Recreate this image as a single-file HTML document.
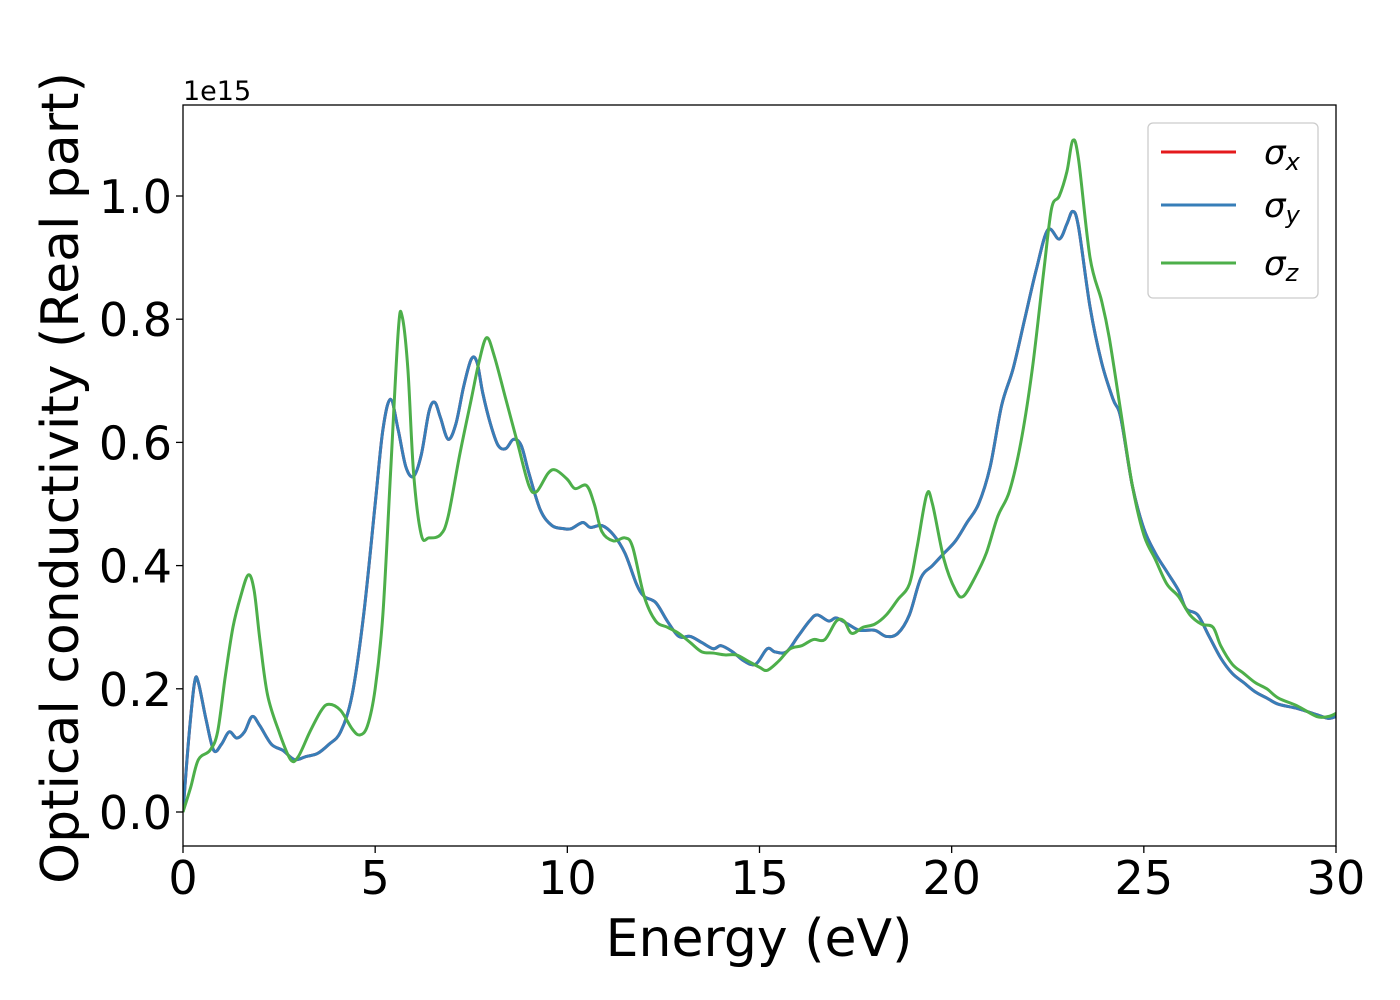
<!DOCTYPE html>
<html><head><meta charset="utf-8"><style>
body{margin:0;background:#fff;}
svg{display:block;font-family:"DejaVu Sans","Liberation Sans",sans-serif;}
</style></head><body>
<svg id="chart" width="1400" height="1000" viewBox="0 0 1400 1000">
<rect width="1400" height="1000" fill="#fff"/>
<g id="plot"></g>
<g id="axes"></g>
<text x="183" y="100" font-size="27">1e15</text>
<text x="759" y="956" font-size="52" text-anchor="middle">Energy (eV)</text>
<text transform="translate(78,478) rotate(-90)" font-size="52" text-anchor="middle">Optical conductivity (Real part)</text>
<g>
<rect x="1148" y="123" width="170" height="175" rx="5" fill="#fff" fill-opacity="0.8" stroke="#ccc" stroke-width="1.3"/>
<g><line x1="1161" y1="152" x2="1236" y2="152" stroke="#e41a1c" stroke-width="3"/><text x="1264" y="164" font-size="34" font-style="italic">σ<tspan font-size="24" dy="6">x</tspan></text></g>
<g><line x1="1161" y1="205" x2="1236" y2="205" stroke="#377eb8" stroke-width="3"/><text x="1264" y="217" font-size="34" font-style="italic">σ<tspan font-size="24" dy="6">y</tspan></text></g>
<g><line x1="1161" y1="263" x2="1236" y2="263" stroke="#4daf4a" stroke-width="3"/><text x="1264" y="275" font-size="34" font-style="italic">σ<tspan font-size="24" dy="6">z</tspan></text></g>
</g>
</svg>
<script>
const xyE=[0,0.15,0.3,0.4,0.6,0.8,1.0,1.2,1.4,1.6,1.8,2.0,2.3,2.6,2.9,3.2,3.5,3.8,4.1,4.4,4.7,5.0,5.2,5.4,5.6,5.8,6.0,6.2,6.4,6.55,6.7,6.9,7.1,7.3,7.5,7.65,7.8,8.0,8.2,8.4,8.6,8.8,9.0,9.3,9.6,9.9,10.1,10.4,10.6,10.9,11.2,11.5,11.8,12.0,12.3,12.6,12.9,13.2,13.5,13.8,14.0,14.3,14.6,14.9,15.2,15.4,15.7,16.0,16.3,16.5,16.8,17.0,17.3,17.6,18.0,18.3,18.6,18.9,19.2,19.5,19.8,20.1,20.4,20.7,21.0,21.3,21.6,21.9,22.2,22.5,22.8,23.0,23.15,23.3,23.6,23.9,24.2,24.4,24.7,25.0,25.3,25.6,25.9,26.1,26.4,26.7,27.0,27.3,27.6,27.9,28.2,28.5,29.0,29.5,29.8,30];
const sigmaX=[0,0.12,0.21,0.21,0.15,0.10,0.11,0.13,0.12,0.13,0.155,0.14,0.11,0.10,0.085,0.09,0.095,0.11,0.13,0.19,0.32,0.5,0.62,0.67,0.62,0.56,0.545,0.58,0.65,0.665,0.64,0.605,0.63,0.69,0.735,0.73,0.68,0.63,0.595,0.59,0.605,0.595,0.55,0.49,0.465,0.46,0.46,0.47,0.462,0.465,0.45,0.42,0.37,0.35,0.34,0.31,0.285,0.285,0.275,0.265,0.27,0.26,0.245,0.24,0.265,0.26,0.26,0.285,0.31,0.32,0.31,0.315,0.305,0.295,0.295,0.285,0.29,0.32,0.38,0.4,0.42,0.44,0.47,0.5,0.56,0.66,0.72,0.8,0.88,0.945,0.93,0.955,0.975,0.95,0.82,0.73,0.67,0.64,0.53,0.46,0.42,0.39,0.36,0.33,0.32,0.285,0.25,0.225,0.21,0.195,0.185,0.175,0.168,0.158,0.152,0.155];
const sigmaY=sigmaX.slice();
const zE=[0,0.2,0.4,0.7,0.9,1.1,1.3,1.5,1.7,1.85,2.0,2.2,2.5,2.8,3.0,3.3,3.6,3.8,4.1,4.4,4.6,4.8,5.0,5.2,5.4,5.6,5.7,5.85,6.0,6.2,6.4,6.7,6.9,7.2,7.5,7.7,7.9,8.1,8.4,8.7,9.0,9.2,9.5,9.7,10.0,10.2,10.5,10.7,10.9,11.2,11.5,11.7,12.0,12.3,12.6,12.9,13.2,13.5,13.8,14.1,14.4,14.7,15.0,15.2,15.5,15.8,16.1,16.4,16.7,17.0,17.2,17.4,17.7,18.0,18.3,18.6,18.9,19.1,19.35,19.5,19.8,20.1,20.3,20.6,20.9,21.2,21.5,21.8,22.1,22.4,22.6,22.8,23.0,23.15,23.3,23.6,23.9,24.1,24.4,24.7,25.0,25.3,25.6,25.9,26.2,26.5,26.8,27.0,27.3,27.6,27.9,28.2,28.5,29.0,29.5,29.8,30];
const sigmaZ=[0,0.04,0.085,0.10,0.13,0.22,0.3,0.35,0.385,0.36,0.28,0.19,0.13,0.085,0.09,0.13,0.165,0.175,0.165,0.135,0.125,0.14,0.2,0.32,0.55,0.78,0.805,0.72,0.55,0.45,0.445,0.45,0.48,0.58,0.67,0.73,0.77,0.74,0.67,0.6,0.53,0.52,0.55,0.555,0.54,0.525,0.53,0.5,0.455,0.44,0.445,0.43,0.35,0.31,0.3,0.29,0.275,0.26,0.258,0.255,0.255,0.245,0.235,0.23,0.245,0.265,0.27,0.28,0.28,0.31,0.31,0.29,0.3,0.305,0.32,0.345,0.37,0.43,0.515,0.5,0.41,0.36,0.35,0.38,0.42,0.48,0.52,0.6,0.72,0.88,0.98,1.0,1.04,1.09,1.06,0.9,0.83,0.77,0.65,0.53,0.45,0.41,0.37,0.35,0.32,0.305,0.3,0.27,0.24,0.225,0.21,0.2,0.185,0.172,0.155,0.155,0.16];
const xTicks=[0,5,10,15,20,25,30];
const yTicks=[0,0.2,0.4,0.6,0.8,1.0];
const xTickLabels=["0","5","10","15","20","25","30"];
const yTickLabels=["0.0","0.2","0.4","0.6","0.8","1.0"];

const L=183,R=1336,T=105,B=846;
const xs=v=>L+(v-0)/(30-0)*(R-L);
const ys=v=>812-v*616;
const NS="http://www.w3.org/2000/svg";
const plot=document.getElementById('plot'),axes=document.getElementById('axes');
function mk(tag,attrs,parent){const e=document.createElementNS(NS,tag);for(const k in attrs)e.setAttribute(k,attrs[k]);parent.appendChild(e);return e;}
function smooth(E,V){const p=E.map((e,i)=>[xs(e),ys(V[i])]);let d=`M${p[0][0]},${p[0][1]}`;
 for(let i=0;i<p.length-1;i++){const p0=p[Math.max(i-1,0)],p1=p[i],p2=p[i+1],p3=p[Math.min(i+2,p.length-1)];
 const c1=[p1[0]+(p2[0]-p0[0])/6,p1[1]+(p2[1]-p0[1])/6],c2=[p2[0]-(p3[0]-p1[0])/6,p2[1]-(p3[1]-p1[1])/6];
 d+=`C${c1[0]},${c1[1]} ${c2[0]},${c2[1]} ${p2[0]},${p2[1]}`;}return d;}
const series=[[xyE,sigmaX,'#e41a1c','series-sigma-x'],[xyE,sigmaY,'#377eb8','series-sigma-y'],[zE,sigmaZ,'#4daf4a','series-sigma-z']];
for(const [E,V,c,n] of series){const p=mk('path',{d:smooth(E,V),fill:'none',stroke:c,'stroke-width':3,'stroke-linejoin':'round','clip-path':'url(#clp)'},plot);

}
const cp=mk('clipPath',{id:'clp'},document.getElementById('chart'));mk('rect',{x:L,y:T,width:R-L,height:B-T},cp);
const frame=mk('rect',{x:L,y:T,width:R-L,height:B-T,fill:'none',stroke:'#000','stroke-width':1.3},axes);


xTicks.forEach((t,i)=>{const x=xs(t);mk('line',{x1:x,x2:x,y1:B,y2:B+7,stroke:'#000','stroke-width':1.3},axes);
const tx=mk('text',{x:x,y:B+48,'font-size':46,'text-anchor':'middle'},axes);tx.textContent=xTickLabels[i];

});
yTicks.forEach((t,i)=>{const y=ys(t);mk('line',{x1:L-7,x2:L,y1:y,y2:y,stroke:'#000','stroke-width':1.3},axes);
const tx=mk('text',{x:L-11,y:y+17,'font-size':46,'text-anchor':'end'},axes);tx.textContent=yTickLabels[i];

});
</script>
</body></html>
